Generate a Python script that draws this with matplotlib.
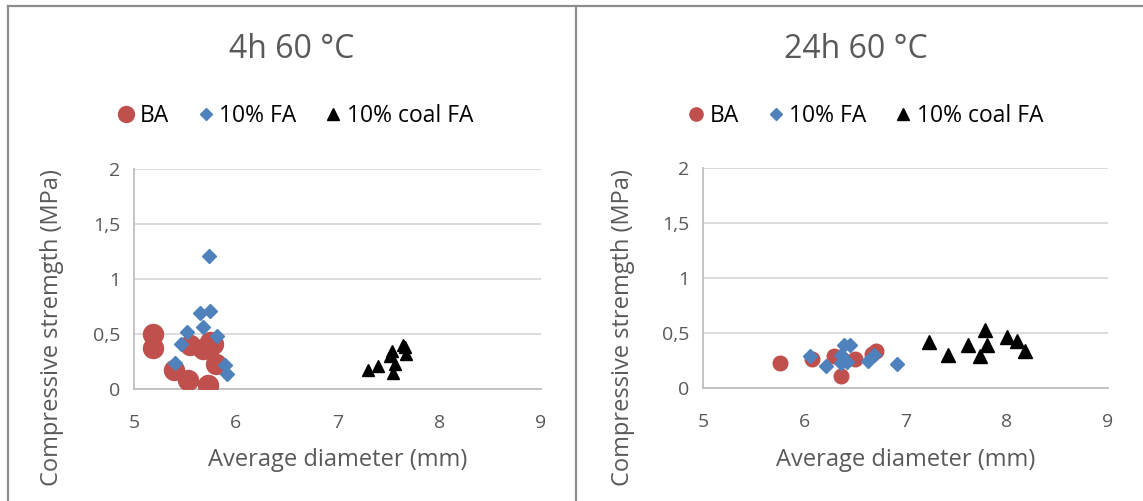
import matplotlib
matplotlib.use("Agg")
import matplotlib.pyplot as plt
from matplotlib.lines import Line2D

plt.rcParams['font.family'] = ['Open Sans', 'DejaVu Sans']

# ---- data: 4h 60 °C ----
ba_4h_x = [5.19, 5.19, 5.39, 5.53, 5.73, 5.55, 5.68, 5.75, 5.78, 5.81]
ba_4h_y = [0.50, 0.37, 0.17, 0.08, 0.04, 0.40, 0.36, 0.43, 0.41, 0.23]
fa_4h_x = [5.74, 5.65, 5.75, 5.675, 5.52, 5.82, 5.46, 5.40, 5.89, 5.91]
fa_4h_y = [1.21, 0.69, 0.71, 0.56, 0.52, 0.48, 0.41, 0.24, 0.22, 0.14]
coal_4h_x = [7.30, 7.40, 7.52, 7.54, 7.55, 7.57, 7.64, 7.66, 7.67]
coal_4h_y = [0.17, 0.21, 0.30, 0.35, 0.15, 0.23, 0.40, 0.38, 0.32]

# ---- data: 24h 60 °C ----
ba_24h_x = [5.76, 6.08, 6.29, 6.36, 6.37, 6.50, 6.67, 6.71]
ba_24h_y = [0.23, 0.26, 0.29, 0.11, 0.26, 0.26, 0.31, 0.34]
fa_24h_x = [6.06, 6.21, 6.39, 6.45, 6.36, 6.36, 6.42, 6.63, 6.69, 6.92]
fa_24h_y = [0.29, 0.20, 0.39, 0.39, 0.30, 0.23, 0.24, 0.25, 0.30, 0.22]
coal_24h_x = [7.23, 7.42, 7.62, 7.74, 7.80, 7.79, 8.00, 8.10, 8.18]
coal_24h_y = [0.42, 0.30, 0.39, 0.29, 0.39, 0.53, 0.46, 0.43, 0.34]

titles = ["4h 60 °C", "24h 60 °C"]
series_names = ["BA", "10% FA", "10% coal FA"]
x_ticks = [5, 6, 7, 8, 9]
y_ticks = [0, 0.5, 1, 1.5, 2]
y_tick_labels = ["0", "0,5", "1", "1,5", "2"]
x_label = "Average diameter (mm)"
y_label = "Compressive stremgth (MPa)"

RED = "#c0504d"
BLUE = "#4f81bd"
BLACK = "#000000"
TXT = "#595959"

W, H = 1143, 501
fig = plt.figure(figsize=(W/100, H/100), dpi=100)

axes_pos = [
    [134/W, 1-389/H, 407/W, 220/H],
    [703/W, 1-388/H, 405/W, 220/H],
]
panels = [
    dict(ba=(ba_4h_x, ba_4h_y), fa=(fa_4h_x, fa_4h_y), coal=(coal_4h_x, coal_4h_y),
         ms=(14.4, 6.8, 9.0), title_x=292, leg_x=294, ylab_x=52, leg_ms=(11.5, 6.5, 8)),
    dict(ba=(ba_24h_x, ba_24h_y), fa=(fa_24h_x, fa_24h_y), coal=(coal_24h_x, coal_24h_y),
         ms=(10.5, 7.4, 9.5), title_x=856, leg_x=864, ylab_x=623, leg_ms=(9.5, 6.5, 8)),
]

for i, (pos, p) in enumerate(zip(axes_pos, panels)):
    ax = fig.add_axes(pos)
    ms_ba, ms_fa, ms_coal = p["ms"]
    ax.plot(*p["ba"], linestyle="none", marker="o", ms=ms_ba, color=RED, mec=RED, zorder=3)
    ax.plot(*p["fa"], linestyle="none", marker="D", ms=ms_fa, color=BLUE, mec=BLUE, zorder=4)
    ax.plot(*p["coal"], linestyle="none", marker="^", ms=ms_coal, color=BLACK, mec=BLACK, zorder=5)
    ax.set_xlim(5, 9)
    ax.set_ylim(0, 2)
    ax.set_xticks(x_ticks)
    ax.set_yticks(y_ticks)
    ax.set_yticklabels(y_tick_labels)
    ax.tick_params(length=0, labelsize=14, colors=TXT)
    ax.tick_params(axis='y', pad=10)
    ax.tick_params(axis='x', pad=18)
    ax.grid(axis='y', color="#d9d9d9", linewidth=1.3)
    ax.set_axisbelow(True)
    for s in ["top", "right"]:
        ax.spines[s].set_visible(False)
    for s in ["left", "bottom"]:
        ax.spines[s].set_color("#bfbfbf")
        ax.spines[s].set_linewidth(1.3)

    x0 = pos[0] + pos[2] / 2
    fig.text(x0, 1-460/H, x_label, ha="center", va="center", fontsize=17, color=TXT)
    fig.text(p["ylab_x"]/W, 1-328/H, y_label, ha="center", va="center", rotation=90,
             fontsize=17, color=TXT)

    fig.text(p["title_x"]/W, 1-50/H, titles[i], ha="center", va="center", fontsize=23, color=TXT)

    lm = p["leg_ms"]
    handles = [
        Line2D([], [], linestyle="none", marker="o", ms=lm[0], color=RED),
        Line2D([], [], linestyle="none", marker="D", ms=lm[1], color=BLUE),
        Line2D([], [], linestyle="none", marker="^", ms=lm[2], color=BLACK),
    ]
    fig.legend(handles, series_names, loc="center", bbox_to_anchor=(p["leg_x"]/W, 1-116/H),
               ncol=3, frameon=False, fontsize=16.5, handletextpad=0.1, columnspacing=1.1,
               handlelength=1.0, labelcolor="#000000")

# frame lines
fc = "#8c8c8c"
fig.add_artist(Line2D([8/W, 1], [1-6/H, 1-6/H], color=fc, lw=1.6, transform=fig.transFigure))
fig.add_artist(Line2D([8/W, 8/W], [0, 1-6/H], color=fc, lw=1.6, transform=fig.transFigure))
fig.add_artist(Line2D([576/W, 576/W], [0, 1-6/H], color=fc, lw=1.6, transform=fig.transFigure))

fig.savefig("out.png", dpi=100)
